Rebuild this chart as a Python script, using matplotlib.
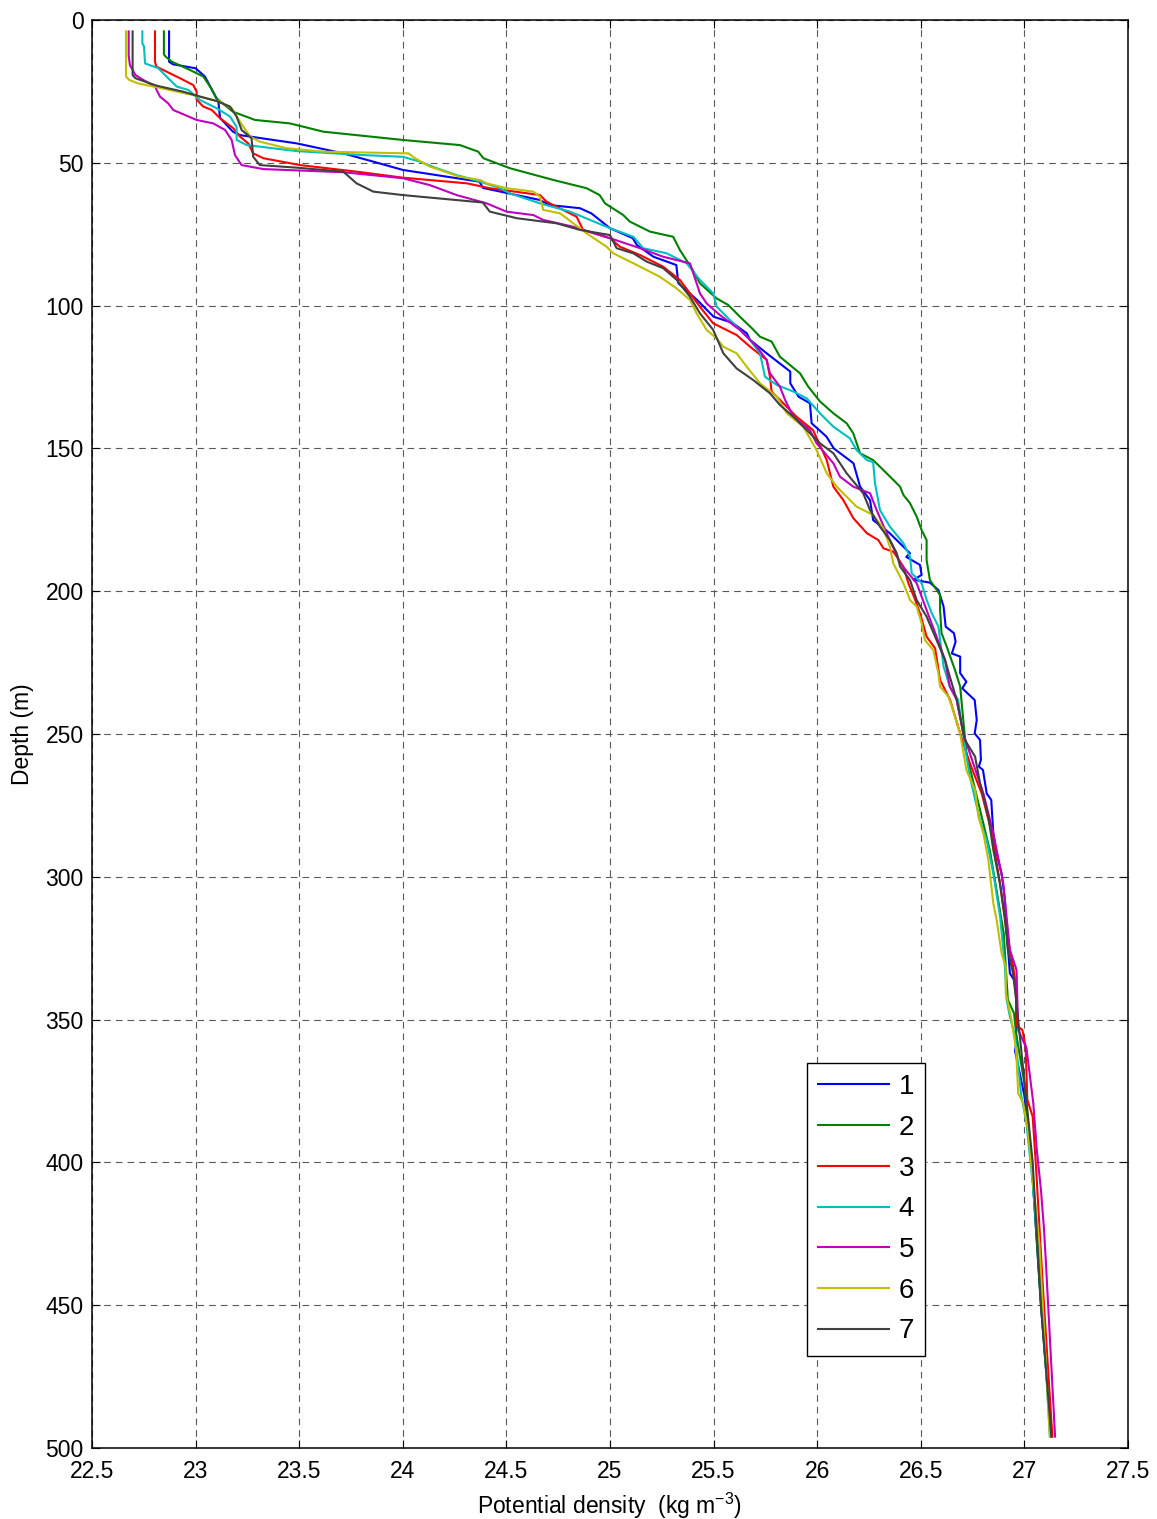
import matplotlib
matplotlib.use('Agg')
import matplotlib.pyplot as plt

plt.rcParams['font.family'] = ['Liberation Sans', 'DejaVu Sans']
plt.rcParams['mathtext.default'] = 'regular'

# profile 1
depth1 = [4, 14.6, 15.5, 16.9, 19.8, 28.6, 34.3, 39.1, 40.3, 43.2,
          46.7, 49.6, 52.5, 56.6, 58.8, 63.0, 64.8, 65.9, 67.7, 72.9,
          76.4, 78.8, 82.9, 85.8, 92.2, 98.0, 103.9, 106, 109.7, 112,
          116.7, 123.1, 127.2, 131.9, 134.2, 141.2, 145.9, 150, 155.2, 163.4,
          168.1, 175.1, 179.7, 186.7, 188, 190.8, 194.3, 196, 197, 199.6,
          205.4, 212.4, 214.7, 217.7, 221.8, 222.9, 228.7, 231.7, 234, 238.1,
          245.1, 249.8, 252.1, 259.1, 261.4, 262.6, 270.8, 273.1, 284.8, 291.8,
          298.8, 308.1, 318.6, 333.8, 336.1, 340, 358.3, 361, 376.6, 400,
          450, 496]
sigma1 = [22.872, 22.872, 22.89, 23.0, 23.045, 23.11, 23.118, 23.18, 23.214, 23.488,
          23.713, 23.858, 24.0, 24.37, 24.387, 24.66, 24.71, 24.855, 24.91, 25.0,
          25.11, 25.13, 25.21, 25.32, 25.33, 25.42, 25.5, 25.59, 25.66, 25.676,
          25.756, 25.87, 25.87, 25.91, 25.965, 25.973, 26.045, 26.08, 26.175, 26.207,
          26.255, 26.27, 26.35, 26.448, 26.43, 26.496, 26.504, 26.465, 26.544, 26.585,
          26.61, 26.62, 26.66, 26.668, 26.65, 26.69, 26.69, 26.72, 26.70, 26.76,
          26.77, 26.76, 26.786, 26.79, 26.78, 26.80, 26.818, 26.84, 26.85, 26.866,
          26.89, 26.906, 26.914, 26.93, 26.95, 26.96, 26.96, 26.955, 27.0, 27.035,
          27.08, 27.13]

# profile 2
depth2 = [4, 12, 12.8, 14.6, 17.5, 19.8, 23.3, 27.4, 32.1, 35,
          36.2, 39.1, 42, 43.8, 46.1, 48.4, 51.9, 56, 58.9, 61.3,
          64.2, 68.3, 70.6, 74.1, 75.9, 80.5, 86.9, 92.2, 97.5, 99.8,
          103.9, 108.3, 110.9, 112.6, 117.9, 123.7, 128.4, 133.6, 137.7, 141.2,
          144.7, 151.7, 154.1, 158.7, 163.4, 166.3, 169.2, 173.9, 178.6, 182.1,
          189.1, 196.1, 201.3, 206.6, 214.7, 219.4, 227.6, 233.4, 245.1, 256.8,
          291, 319.7, 343, 347.8, 354.8, 372.3, 400, 450, 496]
sigma2 = [22.847, 22.847, 22.855, 22.885, 22.973, 23.037, 23.07, 23.10, 23.18, 23.287,
          23.455, 23.616, 24.0, 24.276, 24.364, 24.389, 24.517, 24.726, 24.887, 24.95,
          24.976, 25.064, 25.096, 25.193, 25.305, 25.337, 25.394, 25.434, 25.515, 25.571,
          25.627, 25.69, 25.724, 25.78, 25.82, 25.917, 25.957, 26.014, 26.078, 26.142,
          26.174, 26.207, 26.27, 26.335, 26.4, 26.416, 26.448, 26.48, 26.504, 26.528,
          26.528, 26.544, 26.593, 26.593, 26.6, 26.625, 26.665, 26.69, 26.705, 26.72,
          26.834, 26.9, 26.92, 26.95, 26.96, 27.0, 27.035, 27.08, 27.13]

# profile 3
depth3 = [4, 14.6, 16.3, 20.4, 22.8, 25.1, 27.9, 30.3, 31.5, 34.4,
          37.9, 40.8, 43.2, 46.7, 48.4, 50.8, 53.1, 55.2, 57.2, 58.9,
          61.3, 63.6, 68.9, 73.5, 76.4, 79.4, 82.3, 86.4, 91, 95.7,
          100.4, 106.2, 110.3, 114.4, 119, 124.9, 130.1, 133, 138.9, 143.6,
          148.8, 154.1, 163.4, 168.1, 174.5, 179.7, 182.1, 185, 186.2, 191.4,
          197.2, 202.5, 207.7, 215.9, 220, 231.1, 238, 249.8, 260.3, 270.8,
          284.8, 302.3, 320, 331.5, 336, 343, 351.9, 353.6, 359.5, 378,
          384, 401.5, 442.3, 496]
sigma3 = [22.804, 22.804, 22.81, 22.925, 22.989, 23.005, 23.005, 23.037, 23.078, 23.118,
          23.182, 23.214, 23.254, 23.278, 23.327, 23.504, 23.777, 24.0, 24.31, 24.42,
          24.662, 24.694, 24.839, 24.87, 25.0, 25.048, 25.145, 25.257, 25.337, 25.386,
          25.434, 25.498, 25.611, 25.676, 25.756, 25.772, 25.78, 25.82, 25.9, 25.98,
          26.013, 26.046, 26.078, 26.126, 26.175, 26.24, 26.295, 26.32, 26.368, 26.416,
          26.44, 26.47, 26.496, 26.528, 26.569, 26.593, 26.641, 26.69, 26.737, 26.794,
          26.843, 26.882, 26.915, 26.946, 26.955, 26.96, 26.96, 26.99, 27.006, 27.014,
          27.04, 27.056, 27.088, 27.135]

# profile 4
depth4 = [4, 8.2, 9.3, 15.2, 16.9, 21, 23.3, 24.5, 28, 30.9,
          33.8, 37.4, 42, 43.8, 45.9, 47.3, 47.9, 49.6, 51.9, 54.3,
          56.6, 58.9, 60.7, 64.2, 67.1, 72.9, 75.9, 79.9, 81.7, 85.2,
          91, 95.7, 100.4, 106.2, 112, 116.7, 124.9, 127.8, 130.1, 132.5,
          137.7, 142.4, 146.5, 150.6, 154.1, 154.8, 162.2, 171.6, 177.4, 183.2,
          187.9, 193.7, 197.2, 203, 207.7, 212.4, 226.4, 233.4, 238, 254.4,
          265, 280, 287.1, 298.8, 314, 331.5, 343, 349, 355.8, 366.5,
          376.6, 386.3, 407.3, 442.3, 496]
sigma4 = [22.743, 22.743, 22.751, 22.756, 22.82, 22.876, 22.909, 22.965, 23.021, 23.102,
          23.166, 23.198, 23.198, 23.247, 23.488, 23.81, 24.0, 24.083, 24.164, 24.26,
          24.373, 24.47, 24.517, 24.662, 24.807, 25.0, 25.113, 25.16, 25.274, 25.37,
          25.434, 25.498, 25.515, 25.595, 25.676, 25.724, 25.748, 25.805, 25.885, 25.95,
          26.013, 26.078, 26.158, 26.19, 26.24, 26.27, 26.279, 26.303, 26.351, 26.416,
          26.448, 26.456, 26.504, 26.528, 26.553, 26.585, 26.61, 26.64, 26.68, 26.713,
          26.737, 26.785, 26.818, 26.85, 26.883, 26.906, 26.914, 26.93, 26.955, 26.97,
          26.985, 27.01, 27.04, 27.08, 27.123]

# profile 5
depth5 = [4, 12.4, 15.8, 19.3, 21, 23.3, 26.8, 29.2, 31.5, 35,
          36.2, 38.5, 42, 47.3, 50.8, 52.2, 53.3, 55.4, 57.8, 61.3,
          64.2, 67.1, 68.3, 70, 72.4, 76.4, 79.9, 82.9, 85.2, 90.4,
          95.7, 99.2, 103.3, 108.5, 114.4, 119, 123.7, 128.4, 133, 138.9,
          143.6, 148.2, 155.2, 159.9, 163.4, 165.7, 171.6, 179.7, 186.7, 190.2,
          197.2, 206.6, 215.9, 224.1, 233.4, 238, 249.8, 260.3, 270.8, 284.8,
          302.3, 319.8, 325.6, 332.6, 353.6, 360, 379.3, 395.7, 409.7, 423.7,
          435.3, 496]
sigma5 = [22.677, 22.677, 22.683, 22.71, 22.748, 22.804, 22.828, 22.868, 22.892, 23.005,
          23.085, 23.142, 23.174, 23.19, 23.222, 23.327, 23.713, 24.0, 24.13, 24.26,
          24.405, 24.5, 24.63, 24.678, 24.823, 25.0, 25.145, 25.257, 25.386, 25.41,
          25.434, 25.466, 25.53, 25.627, 25.708, 25.756, 25.772, 25.82, 25.845, 25.885,
          25.965, 25.997, 26.078, 26.11, 26.174, 26.255, 26.287, 26.335, 26.38, 26.4,
          26.48, 26.528, 26.576, 26.617, 26.64, 26.673, 26.705, 26.753, 26.802, 26.85,
          26.898, 26.922, 26.93, 26.962, 26.97, 27.01, 27.043, 27.06, 27.08, 27.095,
          27.104, 27.148]

# profile 6
depth6 = [4, 19.8, 21, 22.2, 23.9, 26.3, 28.6, 30.9, 35.6, 40.8,
          42.6, 44.9, 46.1, 46.7, 48.4, 51.3, 54.9, 56, 57.2, 58.9,
          60.1, 61.9, 66.5, 67.7, 71.2, 74.7, 79.4, 81.7, 85.8, 89.9,
          93.9, 98, 102.7, 108.5, 111.5, 114.4, 116.7, 121.4, 127.2, 131.9,
          137.7, 142.4, 150.6, 158.7, 163.4, 170.4, 173.3, 178, 184.4, 190.2,
          197.2, 203.1, 205.4, 211.2, 217.1, 220.6, 228.7, 233.4, 236.9, 240.4,
          249.8, 262.6, 269.6, 278.9, 284.8, 294.1, 309.3, 315.1, 326.8, 331.5,
          340.7, 349, 360.6, 375.8, 379.3, 388.7, 406, 428.3, 496]
sigma6 = [22.664, 22.664, 22.68, 22.723, 22.836, 22.989, 23.118, 23.174, 23.214, 23.263,
          23.31, 23.44, 23.616, 24.027, 24.059, 24.13, 24.276, 24.373, 24.405, 24.5,
          24.63, 24.662, 24.678, 24.759, 24.823, 24.887, 24.984, 25.016, 25.13, 25.24,
          25.32, 25.386, 25.418, 25.466, 25.515, 25.547, 25.611, 25.66, 25.724, 25.805,
          25.853, 25.933, 25.997, 26.046, 26.094, 26.19, 26.27, 26.319, 26.351, 26.367,
          26.416, 26.448, 26.48, 26.504, 26.52, 26.56, 26.585, 26.593, 26.633, 26.65,
          26.69, 26.72, 26.762, 26.778, 26.802, 26.826, 26.85, 26.866, 26.89, 26.91,
          26.91, 26.935, 26.96, 26.97, 26.994, 27.017, 27.04, 27.072, 27.123]

# profile 7
depth7 = [4, 19.3, 20.4, 23, 25.1, 26.8, 28.4, 30.3, 33.8, 38.5,
          41.4, 47.9, 50.8, 51.7, 53.1, 57.2, 60.1, 61.3, 63.9, 67.1,
          69.4, 71.2, 73.5, 75.3, 79.9, 81.7, 84.6, 86.9, 91, 96.9,
          102.7, 108.5, 116.7, 122, 126, 130.7, 134.8, 138.9, 143.6, 148.2,
          151.7, 158.7, 165.7, 171.6, 177.4, 182.1, 186.7, 191.4, 196.1, 203.1,
          208.9, 217.1, 224.1, 229.9, 238, 252.1, 257.9, 267.3, 278.9, 290.6,
          302.3, 314, 325.6, 333.8, 343, 400, 450, 496]
sigma7 = [22.696, 22.696, 22.71, 22.812, 22.94, 23.021, 23.102, 23.166, 23.198, 23.222,
          23.27, 23.278, 23.31, 23.488, 23.713, 23.777, 23.858, 24.0, 24.386, 24.42,
          24.55, 24.743, 24.855, 25.0, 25.032, 25.113, 25.177, 25.257, 25.322, 25.386,
          25.434, 25.498, 25.547, 25.611, 25.69, 25.772, 25.82, 25.885, 25.95, 26.013,
          26.078, 26.142, 26.222, 26.255, 26.303, 26.351, 26.384, 26.4, 26.448, 26.48,
          26.528, 26.576, 26.617, 26.64, 26.673, 26.713, 26.762, 26.786, 26.826, 26.85,
          26.882, 26.906, 26.92, 26.945, 26.96, 27.04, 27.08, 27.13]

labels = ['1', '2', '3', '4', '5', '6', '7']
colors = ['#0000ff', '#008000', '#ff0000', '#00bfbf', '#bf00bf', '#bfbf00', '#404040']
profiles = [(sigma1, depth1), (sigma2, depth2), (sigma3, depth3), (sigma4, depth4),
            (sigma5, depth5), (sigma6, depth6), (sigma7, depth7)]

fig = plt.figure(figsize=(11.57, 15.19), dpi=100)
ax = fig.add_axes([92 / 1157, 71 / 1519, 1036 / 1157, 1428 / 1519])

for (s, d), c, lab in zip(profiles, colors, labels):
    ax.plot(s, d, color=c, lw=1.5, label=lab)

ax.set_xlim(22.5, 27.5)
ax.set_ylim(500, 0)
ax.set_xticks([22.5, 23, 23.5, 24, 24.5, 25, 25.5, 26, 26.5, 27, 27.5])
ax.set_xticklabels(['22.5', '23', '23.5', '24', '24.5', '25', '25.5', '26', '26.5', '27', '27.5'])
ax.set_yticks(range(0, 501, 50))

ax.grid(True, color='0.35', linestyle=(0, (6, 4.5)), linewidth=0.8)
ax.tick_params(direction='in', top=True, right=True, length=6, width=0.8,
               labelsize=16.5, pad=6)
ax.tick_params(axis='x', pad=9)
for sp in ax.spines.values():
    sp.set_linewidth(1.1)

ax.set_xlabel('Potential density  (kg m$^{-3}$)', fontsize=16.5, labelpad=5)
ax.set_ylabel('Depth (m)', fontsize=16.5, labelpad=8)

leg = ax.legend(loc='upper left', bbox_to_anchor=(0.690, 0.2696), borderaxespad=0,
                fontsize=20, handlelength=2.55, labelspacing=0.53, handletextpad=0.35,
                borderpad=0.4, fancybox=False, framealpha=1)
leg.get_frame().set_edgecolor('black')
leg.get_frame().set_linewidth(1.0)

fig.savefig('out.png', dpi=100)
